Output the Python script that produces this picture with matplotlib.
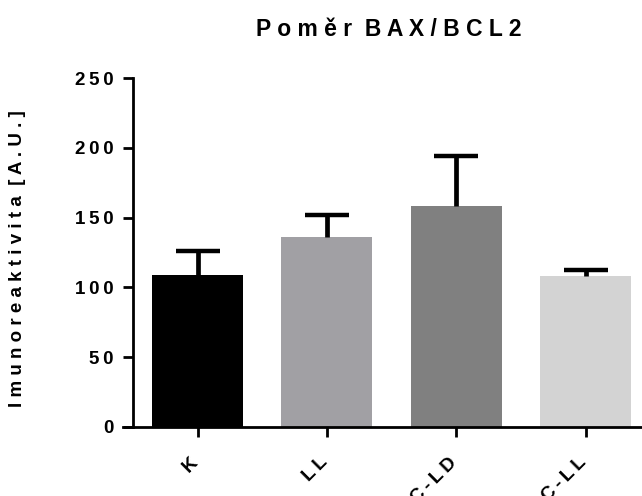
import numpy as np
import matplotlib
matplotlib.use("Agg")
import matplotlib.pyplot as plt
import matplotlib.transforms as mtransforms

plt.rcParams['font.family'] = ['Liberation Sans', 'DejaVu Sans']
plt.rcParams['font.weight'] = 'bold'

# data
groups = ["K", "LL", "C-LD", "C-LL"]
means = [108.8, 135.9, 158.2, 108.3]
sem_up = [17.5, 16.0, 36.2, 4.1]
colors = ["#000000", "#A1A0A4", "#808080", "#D3D3D3"]
yticks = [0, 50, 100, 150, 200, 250]


def spaced(s, sep="\u2009"):
    # prism-like letter spacing
    return sep.join(s)


fig = plt.figure(figsize=(6.42, 4.96), dpi=100)
ax = fig.add_axes([0.1916, 0.1397, 0.807, 0.7024])

x = np.arange(len(groups))
ax.bar(x, means, width=0.704, color=colors, zorder=2)

# upper error bars only (hide the lower caps)
yerr = np.vstack([np.zeros(len(sem_up)), sem_up])
eb = ax.errorbar(x, means, yerr=yerr, fmt="none", ecolor="black",
                 elinewidth=3.4, capsize=15.5, capthick=3.2, zorder=3)
eb[1][0].set_visible(False)

ax.set_xlim(-0.578, 3.43)
ax.set_ylim(0, 250)

for s in ["top", "right"]:
    ax.spines[s].set_visible(False)
ax.spines["left"].set_position(("data", -0.503))
ax.spines["left"].set_linewidth(2.0)
ax.spines["bottom"].set_linewidth(2.0)

ax.set_yticks(yticks)
ax.set_yticklabels([spaced(str(v)) for v in yticks], fontsize=13.5, fontweight="bold")
ax.set_xticks(x)
ax.set_xticklabels([spaced(g) for g in groups], fontsize=13.8, fontweight="bold",
                   rotation=45, ha="right", va="top", rotation_mode="anchor")
ax.tick_params(axis="y", direction="out", length=7.5, width=2.0, pad=6)
ax.tick_params(axis="x", direction="out", length=7, width=2.0, pad=9)

shift = mtransforms.ScaledTranslation(-8 / 100, -5 / 100, fig.dpi_scale_trans)
for lab in ax.get_xticklabels():
    lab.set_transform(lab.get_transform() + shift)

fig.text(0.606, 0.9415, spaced("Poměr", " ") + "  " + spaced("BAX/BCL2", " "),
         ha="center", va="center", fontsize=16.5, fontweight="bold")
fig.text(0.027, 0.478, spaced("Imunoreaktivita", " ") + "  " + spaced("[A.U.]", " "),
         ha="center", va="center", rotation=90, fontsize=13.5, fontweight="bold")

fig.savefig("out.png", dpi=100)
